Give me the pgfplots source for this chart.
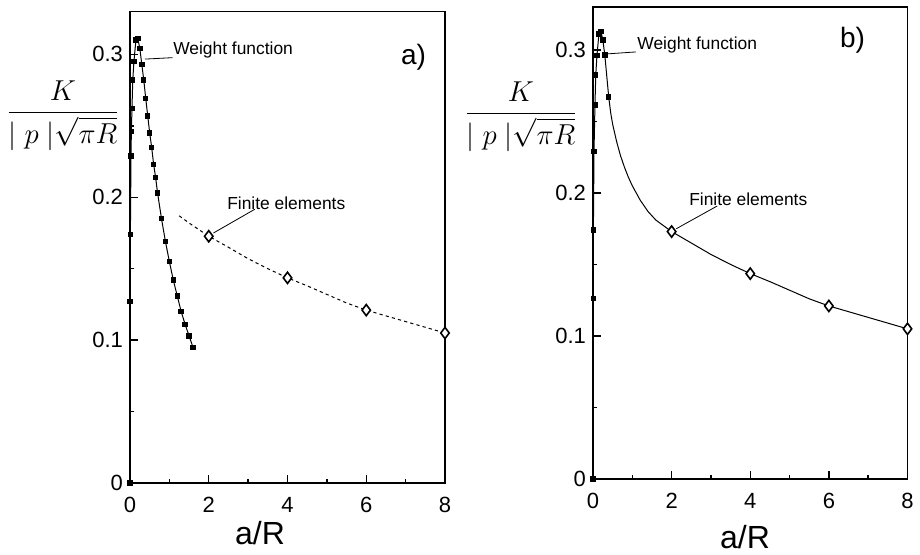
\documentclass[border=0pt]{standalone}
\usepackage{amsmath}
\usepackage{fontspec}
\setmainfont{Liberation Sans}
\usepackage{pgfplots}
\pgfplotsset{compat=1.18}
\pgfplotsset{
  myaxis/.style={
    scale only axis, anchor=south west, clip=false,
    xmin=0, xmax=8, ymin=0, ymax=0.33,
    xtick={0,2,4,6,8}, minor xtick={1,3,5,7},
    ytick={0,0.1,0.2,0.3}, minor ytick={0.05,0.15,0.25},
    tick pos=left, tick align=inside,
    major tick length=4pt, minor tick length=2pt,
    axis line style={line width=0.7pt},
    every tick/.style={black, line width=0.7pt},
    ticklabel style={font=\fontsize{11}{13}\selectfont},
    xticklabel style={yshift=-3.5pt},
    /pgf/number format/assume math mode=true,
    /pgf/number format/fixed,
  },
  wf/.style={black, line width=0.5pt, mark=square*, mark size=1.1pt, mark options={solid, fill=black}},
  fe/.style={only marks, mark=diamond*, mark size=2.8pt, mark options={solid, fill=white, draw=black, line width=0.8pt}},
}
\tikzset{ann/.style={font=\fontsize{8.7}{10}\selectfont, inner sep=0pt}}
\begin{document}
\begin{tikzpicture}
\path[use as bounding box] (0,0) rectangle (460pt,-277pt);
% ---------- panel a ----------
\begin{axis}[myaxis, at={(65pt,-241.5pt)}, width=157.5pt, height=235.75pt]
\addplot[wf] coordinates {
(0,0) (0.005,0.127) (0.01,0.174) (0.025,0.229) (0.035,0.246) (0.05,0.262)
(0.07,0.282) (0.1,0.295) (0.15,0.310) (0.2,0.311) (0.25,0.304) (0.3,0.293)
(0.35,0.282) (0.4,0.269) (0.45,0.257) (0.5,0.245) (0.55,0.235) (0.6,0.223)
(0.65,0.214) (0.7,0.203) (0.8,0.185) (0.9,0.169) (1.0,0.155) (1.1,0.142)
(1.2,0.131) (1.3,0.120) (1.4,0.111) (1.5,0.103) (1.6,0.095)};
\addplot[black, line width=0.5pt, dash pattern=on 1.6pt off 1.6pt] coordinates {
(1.25,0.187) (1.5,0.182) (2,0.1727) (2.5,0.165) (3,0.157) (3.5,0.150) (4,0.1436)
(4.5,0.138) (5,0.132) (5.5,0.126) (6,0.121) (6.5,0.117) (7,0.113) (7.5,0.109) (8,0.105)};
\addplot[fe] coordinates {(2,0.1727) (4,0.1436) (6,0.121) (8,0.105)};
\draw[line width=0.4pt] (axis cs:0.38,0.2967) -- (axis cs:1.08,0.2977);
\node[ann, anchor=west] at (axis cs:1.09,0.3028) {Weight function};
\draw[line width=0.4pt] (axis cs:2.12,0.175) -- (axis cs:3.17,0.1916);
\node[ann, anchor=west] at (axis cs:2.46,0.1958) {Finite elements};
\node[font=\fontsize{14}{16}\selectfont, inner sep=0pt] at (axis cs:7.2,0.298) {a)};
\end{axis}
% ---------- panel b ----------
\begin{axis}[myaxis, at={(296.5pt,-239.5pt)}, width=157.25pt, height=236pt]
\addplot[black, line width=0.5pt] coordinates {
(0,0) (0.005,0.126) (0.01,0.174) (0.025,0.229) (0.05,0.2615) (0.07,0.2825)
(0.1,0.296) (0.15,0.311) (0.2,0.313) (0.25,0.307) (0.3,0.2965) (0.4,0.267)
(0.45,0.256) (0.5,0.248) (0.6,0.236) (0.7,0.226) (0.8,0.218) (0.9,0.211)
(1.0,0.205) (1.2,0.195) (1.4,0.187) (1.6,0.181) (1.8,0.177) (2,0.173)
(2.5,0.165) (3,0.157) (3.5,0.150) (4,0.1436) (4.5,0.138) (5,0.132)
(5.5,0.126) (6,0.121) (6.5,0.117) (7,0.113) (7.5,0.109) (8,0.105)};
\addplot[wf, only marks] coordinates {
(0,0) (0.005,0.126) (0.01,0.174) (0.025,0.229) (0.05,0.2615) (0.07,0.2825)
(0.1,0.296) (0.15,0.311) (0.2,0.313) (0.25,0.307) (0.3,0.2965) (0.4,0.267)};
\addplot[fe] coordinates {(2,0.173) (4,0.1436) (6,0.121) (8,0.105)};
\draw[line width=0.4pt] (axis cs:0.35,0.2972) -- (axis cs:1.09,0.2986);
\node[ann, anchor=west] at (axis cs:1.12,0.3035) {Weight function};
\draw[line width=0.4pt] (axis cs:2.12,0.175) -- (axis cs:3.16,0.1909);
\node[ann, anchor=west] at (axis cs:2.44,0.1958) {Finite elements};
\node[font=\fontsize{14}{16}\selectfont, inner sep=0pt] at (axis cs:6.6,0.307) {b)};
\end{axis}
% ---------- axis labels ----------
\node[font=\fontsize{15.5}{18}\selectfont, anchor=base, inner sep=0pt] at (31.5pt,-59.9pt) {$\dfrac{K}{|\;p\;|\sqrt{\pi R}}$};
\node[font=\fontsize{15.5}{18}\selectfont, anchor=base, inner sep=0pt] at (260.5pt,-60.4pt) {$\dfrac{K}{|\;p\;|\sqrt{\pi R}}$};
\node[font=\fontsize{16}{18}\selectfont] at (130pt,-266.5pt) {a/R};
\node[font=\fontsize{16}{18}\selectfont] at (372.5pt,-268.5pt) {a/R};
\end{tikzpicture}
\end{document}
